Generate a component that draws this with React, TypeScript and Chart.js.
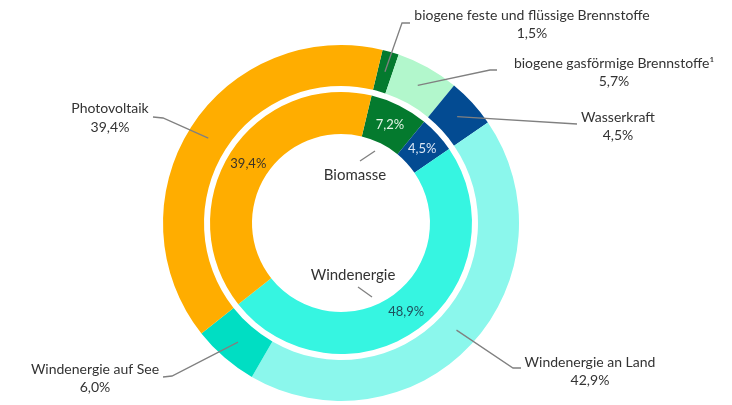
import React, { useEffect, useRef } from "react";
import { Chart, registerables } from "chart.js";

Chart.register(...registerables);

// ---- data ----
const outerLabels = [
  "biogene feste und flüssige Brennstoffe",
  "biogene gasförmige Brennstoffe¹",
  "Wasserkraft",
  "Windenergie an Land",
  "Windenergie auf See",
  "Photovoltaik",
];
const outerValues = [1.5, 5.7, 4.5, 42.9, 6.0, 39.4];
const outerColors = ["#047A2E", "#B2F7CC", "#034B92", "#8BF7EC", "#00DEC3", "#FFAD00"];

const innerLabels = ["Biomasse", "Wasserkraft", "Windenergie", "Photovoltaik"];
const innerValues = [7.2, 4.5, 48.9, 39.4];
const innerColors = ["#047A2E", "#034B92", "#36F5E1", "#FFAD00"];
const innerValueColors = ["#E4F5E6", "#DCE8F6", "#1F4E5C", "#3A3328"];

const fmt = (v: number) => v.toFixed(1).replace(".", ",") + "%";

// ---- label layout (positions only) ----
const outerLabelLayout = [
  { pts: [[402, 23], [410, 23]], x: 532, y1: 15, y2: 33 },
  { pts: [[490, 70], [497, 70]], x: 614, y1: 63, y2: 81 },
  { pts: [[577, 124]], x: 618, y1: 117, y2: 135 },
  { pts: [[513, 368], [521, 368]], x: 590, y1: 362, y2: 380 },
  { pts: [[172, 376], [163, 377]], x: 95, y1: 369, y2: 387 },
  { pts: [[163, 118], [153, 117]], x: 110, y1: 108, y2: 127 },
];
const innerTitleLayout: Record<string, { x: number; y: number; line: number[][] }> = {
  Biomasse: { x: 355, y: 175, line: [[360, 161], [375, 151]] },
  Windenergie: { x: 353, y: 275, line: [[358, 287], [372, 297]] },
};

const FONT = "Lato, 'Open Sans', sans-serif";
const TEXT = "#333333";
const LINE = "#808080";

const labelPlugin = {
  id: "ringLabels",
  afterDraw(chart: any) {
    const ctx = chart.ctx as CanvasRenderingContext2D;
    ctx.save();
    ctx.textAlign = "center";
    ctx.textBaseline = "middle";
    // outer ring leaders + labels
    const outerMeta = chart.getDatasetMeta(0);
    outerMeta.data.forEach((arc: any, i: number) => {
      const lay = outerLabelLayout[i];
      const p = arc.tooltipPosition(false);
      ctx.strokeStyle = LINE;
      ctx.lineWidth = 1.3;
      ctx.beginPath();
      ctx.moveTo(p.x, p.y);
      lay.pts.forEach((q) => ctx.lineTo(q[0], q[1]));
      ctx.stroke();
      ctx.fillStyle = TEXT;
      ctx.font = `14px ${FONT}`;
      ctx.fillText(outerLabels[i], lay.x, lay.y1);
      ctx.fillText(fmt(outerValues[i]), lay.x, lay.y2);
    });
    // inner ring values
    const innerMeta = chart.getDatasetMeta(2);
    innerMeta.data.forEach((arc: any, i: number) => {
      const p = arc.tooltipPosition(false);
      ctx.fillStyle = innerValueColors[i];
      ctx.font = `13px ${FONT}`;
      ctx.fillText(fmt(innerValues[i]), p.x, p.y);
      const t = innerTitleLayout[innerLabels[i]];
      if (t) {
        ctx.strokeStyle = LINE;
        ctx.lineWidth = 1.3;
        ctx.beginPath();
        ctx.moveTo(t.line[0][0], t.line[0][1]);
        ctx.lineTo(t.line[1][0], t.line[1][1]);
        ctx.stroke();
        ctx.fillStyle = TEXT;
        ctx.font = `15px ${FONT}`;
        ctx.fillText(innerLabels[i], t.x, t.y);
      }
    });
    ctx.restore();
  },
};

export default function App() {
  const ref = useRef<HTMLCanvasElement | null>(null);
  useEffect(() => {
    if (!ref.current) return;
    const chart = new Chart(ref.current, {
      type: "doughnut",
      data: {
        labels: outerLabels,
        datasets: [
          { data: outerValues, backgroundColor: outerColors, borderWidth: 0, weight: 41 } as any,
          { data: [1], backgroundColor: ["rgba(0,0,0,0)"], borderWidth: 0, weight: 6 } as any,
          { data: innerValues, backgroundColor: innerColors, borderWidth: 0, weight: 42 } as any,
        ],
      },
      options: {
        animation: false,
        responsive: true,
        maintainAspectRatio: false,
        rotation: 13.5,
        cutout: "50%",
        layout: { padding: { top: 45, bottom: 4, left: 0, right: 50 } },
        plugins: { legend: { display: false }, tooltip: { enabled: false } },
      },
      plugins: [labelPlugin],
    });
    return () => chart.destroy();
  }, []);
  return (
    <div style={{ position: "absolute", left: 0, top: 0, width: 732, height: 405, background: "#fff" }}>
      <canvas ref={ref} />
    </div>
  );
}
